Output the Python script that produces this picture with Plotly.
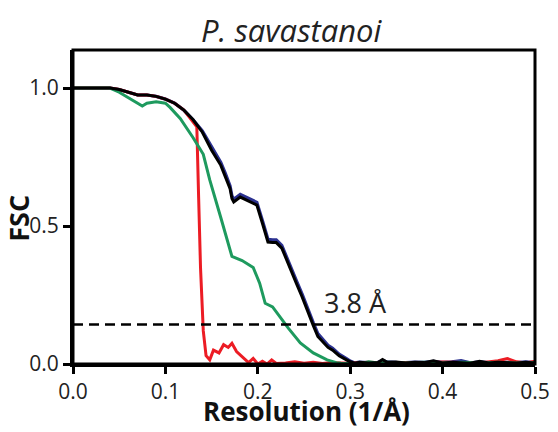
import plotly.graph_objects as go

# Black (full) FSC curve
black_x = [0.0, 0.02, 0.04, 0.05, 0.06, 0.07, 0.08, 0.09, 0.10, 0.11, 0.12, 0.13, 0.14, 0.15, 0.16, 0.165,
           0.17, 0.172, 0.174, 0.181, 0.19, 0.199, 0.205, 0.211, 0.216, 0.22, 0.226, 0.233, 0.237, 0.242,
           0.248, 0.255, 0.26, 0.265, 0.271, 0.276, 0.281, 0.288, 0.296, 0.30, 0.305, 0.31, 0.32,
           0.33, 0.335, 0.34, 0.35, 0.36, 0.37, 0.38, 0.39, 0.40, 0.41, 0.42, 0.43, 0.44, 0.45, 0.46, 0.47,
           0.48, 0.49, 0.50]
black_y = [1.0, 1.0, 1.0, 0.995, 0.985, 0.975, 0.975, 0.97, 0.96, 0.945, 0.92, 0.885, 0.84, 0.775, 0.72, 0.68,
           0.635, 0.60, 0.587, 0.605, 0.59, 0.576, 0.51, 0.442, 0.44, 0.44, 0.42, 0.36, 0.33, 0.29,
           0.243, 0.18, 0.14, 0.10, 0.076, 0.06, 0.05, 0.03, 0.015, 0.008, 0.003, 0.006, 0.004,
           0.005, 0.016, 0.006, 0.007, 0.004, 0.006, 0.005, 0.012, 0.004, 0.006, 0.005, 0.003, 0.010, 0.004,
           0.006, 0.005, 0.004, 0.006, 0.004]

# Blue curve (nearly identical, mostly hidden under black)
blue_y = [1.0, 1.0, 1.0, 0.995, 0.985, 0.975, 0.975, 0.97, 0.96, 0.945, 0.92, 0.885, 0.845, 0.785, 0.73, 0.69,
          0.645, 0.61, 0.597, 0.615, 0.60, 0.586, 0.52, 0.452, 0.45, 0.45, 0.43, 0.37, 0.34, 0.30,
          0.253, 0.19, 0.15, 0.11, 0.085, 0.068, 0.057, 0.036, 0.02, 0.011, 0.004, 0.007, 0.005,
          0.006, 0.012, 0.008, 0.006, 0.005, 0.007, 0.006, 0.010, 0.006, 0.008, 0.012, 0.004, 0.008, 0.005,
          0.007, 0.006, 0.005, 0.008, 0.005]

# Green curve
green_x = [0.0, 0.02, 0.04, 0.05, 0.06, 0.07, 0.075, 0.08, 0.09, 0.10, 0.105, 0.116, 0.13, 0.141, 0.148,
           0.16, 0.172, 0.183, 0.195, 0.202, 0.208, 0.216, 0.225, 0.233, 0.246, 0.26, 0.275, 0.285,
           0.29, 0.30, 0.31, 0.32, 0.33, 0.34, 0.36, 0.38, 0.40, 0.42, 0.44, 0.46, 0.48, 0.50]
green_y = [1.0, 1.0, 1.0, 0.985, 0.965, 0.945, 0.935, 0.945, 0.95, 0.945, 0.93, 0.89, 0.82, 0.76, 0.667,
           0.53, 0.39, 0.375, 0.35, 0.293, 0.22, 0.207, 0.165, 0.13, 0.076, 0.04, 0.015, 0.005,
           0.003, 0.002, 0.0, 0.008, 0.004, 0.006, 0.004, 0.006, 0.004, 0.006, 0.004, 0.006,
           0.004, 0.005]

# Red curve
red_x = [0.0, 0.02, 0.04, 0.05, 0.06, 0.07, 0.08, 0.09, 0.10, 0.11, 0.12, 0.13, 0.134, 0.136, 0.138,
         0.141, 0.144, 0.148, 0.152, 0.158, 0.163, 0.168, 0.172, 0.177, 0.183, 0.19, 0.195, 0.20, 0.205,
         0.21, 0.215, 0.22, 0.23, 0.24, 0.25, 0.26, 0.27, 0.28, 0.29, 0.30, 0.32, 0.34, 0.36, 0.38, 0.40,
         0.42, 0.44, 0.46, 0.47, 0.48, 0.49, 0.50]
red_y = [1.0, 1.0, 1.0, 0.995, 0.985, 0.975, 0.975, 0.97, 0.96, 0.945, 0.92, 0.88, 0.86, 0.60, 0.35,
         0.12, 0.03, 0.015, 0.05, 0.04, 0.07, 0.06, 0.075, 0.045, 0.025, 0.005, 0.02, 0.0, 0.01,
         0.0, 0.015, 0.002, 0.004, 0.008, 0.003, 0.006, 0.002, 0.005, 0.004, 0.003, 0.006, 0.004, 0.005,
         0.004, 0.007, 0.006, 0.004, 0.012, 0.02, 0.008, 0.004, 0.01]

threshold = 0.143
res_label = "3.8 Å"
x_ticks = [0.0, 0.1, 0.2, 0.3, 0.4, 0.5]
y_ticks = [0.0, 0.5, 1.0]

FONT = "Open Sans"

fig = go.Figure()
fig.add_trace(go.Scatter(x=black_x, y=blue_y, mode="lines", line=dict(color="#2b3190", width=3.2)))
fig.add_trace(go.Scatter(x=red_x, y=red_y, mode="lines", line=dict(color="#ec1c24", width=3)))
fig.add_trace(go.Scatter(x=green_x, y=green_y, mode="lines", line=dict(color="#1e9a5e", width=3)))
fig.add_trace(go.Scatter(x=black_x, y=black_y, mode="lines", line=dict(color="#000000", width=3)))

fig.add_shape(type="line", xref="x", yref="y", x0=0, x1=0.5, y0=threshold, y1=threshold,
              line=dict(color="black", width=2.5, dash="10px,6px"))
fig.add_annotation(x=0.27, y=threshold, xref="x", yref="y", text=res_label, showarrow=False,
                   xanchor="left", yanchor="bottom", yshift=2, font=dict(family=FONT, size=27, color="#222"))
# axis titles
fig.add_annotation(x=-0.117, y=0.53, xref="paper", yref="y", text="<b>FSC</b>", showarrow=False,
                   textangle=-90, xanchor="center", yanchor="middle",
                   font=dict(family=FONT, size=27, color="#111"))
fig.add_annotation(x=0.505, y=-0.150, xref="paper", yref="paper", text="<b>Resolution (1/Å)</b>",
                   showarrow=False, xanchor="center", yanchor="middle",
                   font=dict(family=FONT, size=26, color="#111"))
# plot frame
fig.add_shape(type="rect", xref="paper", yref="paper", x0=0, x1=1, y0=0, y1=1,
              line=dict(color="black", width=3), layer="above")
# small stray mark from the neighbouring panel
fig.add_shape(type="circle", xref="paper", yref="paper", x0=1.036, x1=1.043, y0=0.645, y1=0.655,
              fillcolor="#7cc9c6", line=dict(width=0))

fig.update_layout(
    width=550, height=424,
    margin=dict(l=65, r=23, t=42, b=68, autoexpand=False),
    plot_bgcolor="white", paper_bgcolor="white",
    showlegend=False,
    title=dict(text="<i>P. savastanoi</i>", x=0.515, xanchor="center", y=0.946, yanchor="middle",
               font=dict(family=FONT, size=31, color="#222")),
    font=dict(family=FONT, color="#222"),
)
fig.update_xaxes(range=[0, 0.5], tickvals=x_ticks, ticktext=[f"{v:.1f}" for v in x_ticks],
                 showline=True, linecolor="black", linewidth=3, mirror=False, automargin=False,
                 ticks="outside", ticklen=7, tickwidth=3, tickcolor="black",
                 showgrid=False, zeroline=False, tickfont=dict(size=21))
fig.update_yaxes(range=[0, 1.138], tickvals=y_ticks, ticktext=[f"{v:.1f}" for v in y_ticks],
                 showline=True, linecolor="black", linewidth=3, mirror=False, automargin=False,
                 ticks="outside", ticklen=7, tickwidth=3, tickcolor="black",
                 showgrid=False, zeroline=False, tickfont=dict(size=21))

fig.write_html("out.html")
